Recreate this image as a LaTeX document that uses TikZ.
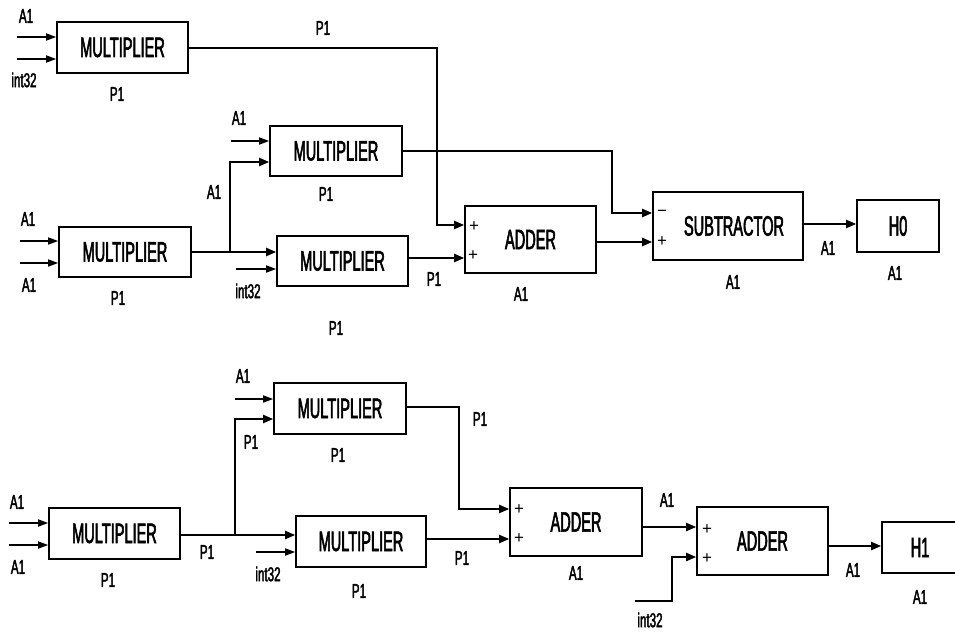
\documentclass[tikz,border=0pt]{standalone}
\usepackage{fontspec}
\setmainfont{Liberation Sans}
\newfontfamily\bigf{Liberation Sans}[FakeStretch=0.52,FakeBold=2]
\newfontfamily\smf{Liberation Sans}[FakeStretch=0.58,FakeBold=2]
\usetikzlibrary{arrows.meta,calc}
\begin{document}
\begin{tikzpicture}[x=1pt,y=-1pt,
  box/.style={draw, line width=1.6pt, inner sep=0pt, font=\bigf\fontsize{28}{28}\selectfont},
  lbl/.style={inner sep=0pt, font=\smf\fontsize{20}{20}\selectfont},
  sgn/.style={inner sep=0pt, font=\fontsize{17}{17}\selectfont},
  arr/.style={line width=2pt, -{Triangle[length=10pt,width=8pt]}},
  inarr/.style={line width=1.6pt, -{Triangle[length=10pt,width=7pt]}}]
\useasboundingbox (0,0) rectangle (955,632);
\clip (0,0) rectangle (955,632);
% ---------- top diagram ----------
\node[box, minimum width=131pt, minimum height=51pt] (m1) at (122.5,47.5) {MULTIPLIER};
\node[box, minimum width=132pt, minimum height=50pt] (m2) at (336,151) {MULTIPLIER};
\node[box, minimum width=132pt, minimum height=50pt] (m3) at (125,252) {MULTIPLIER};
\node[box, minimum width=131pt, minimum height=50pt] (m4) at (342.5,261) {MULTIPLIER};
\node[box, minimum width=131pt, minimum height=67pt] (add1) at (530.5,239.5) {ADDER};
\node[box, minimum width=150pt, minimum height=68pt] (sub) at (728,226) {\hspace*{12pt}SUBTRACTOR};
\node[box, minimum width=82pt, minimum height=52pt] (h0) at (898,226) {H0};
% ---------- bottom diagram ----------
\node[box, minimum width=132pt, minimum height=51pt] (m5) at (340,408.5) {MULTIPLIER};
\node[box, minimum width=131pt, minimum height=51pt] (m6) at (114.5,533.5) {MULTIPLIER};
\node[box, minimum width=130pt, minimum height=51pt] (m7) at (361,541.5) {MULTIPLIER};
\node[box, minimum width=132pt, minimum height=68pt] (add2) at (576,522) {ADDER};
\node[box, minimum width=131pt, minimum height=68pt] (add3) at (762.5,541) {ADDER};
\node[box, minimum width=76pt, minimum height=51pt] (h1) at (920,547.5) {H1};
% ---------- free input ends ----------
\coordinate (i1a) at (17,37);
\coordinate (i1b) at (17,59);
\coordinate (i2a) at (231,141);
\coordinate (i3a) at (20,241);
\coordinate (i3b) at (20,263);
\coordinate (i4b) at (236,269);
\coordinate (j3) at (230,252);
\coordinate (i5a) at (235,399);
\coordinate (i6a) at (9,523);
\coordinate (i6b) at (9,545);
\coordinate (i7b) at (256,552);
\coordinate (j6) at (235,535);
\coordinate (i8) at (635,601);
% ---------- top connectors ----------
\draw[inarr] (i1a) -- (m1.west |- i1a);
\draw[inarr] (i1b) -- (m1.west |- i1b);
\draw[inarr] (i2a) -- (m2.west |- i2a);
\draw[inarr] (i3a) -- (m3.west |- i3a);
\draw[inarr] (i3b) -- (m3.west |- i3b);
\draw[inarr] (i4b) -- (m4.west |- i4b);
\draw[arr] (m1.east) -- (437,47.5) |- (add1.west |- 0,225);
\draw[arr] (m2.east) -- (612,151) |- (sub.west |- 0,213);
\draw[arr] (m3.east) -- (m4.west |- m3.east);
\draw[arr] (j3) |- (m2.west |- 0,162);
\draw[arr] (m4.east |- 0,258) -- (add1.west |- 0,258);
\draw[arr] (add1.east |- 0,242) -- (sub.west |- 0,242);
\draw[arr] (sub.east |- 0,224) -- (h0.west |- 0,224);
% ---------- bottom connectors ----------
\draw[inarr] (i5a) -- (m5.west |- i5a);
\draw[inarr] (i6a) -- (m6.west |- i6a);
\draw[inarr] (i6b) -- (m6.west |- i6b);
\draw[inarr] (i7b) -- (m7.west |- i7b);
\draw[arr] (m6.east |- 0,535) -- (m7.west |- 0,535);
\draw[arr] (j6) |- (m5.west |- 0,419);
\draw[arr] (m5.east |- 0,407) -- (459,407) |- (add2.west |- 0,509);
\draw[arr] (m7.east |- 0,539) -- (add2.west |- 0,539);
\draw[arr] (add2.east |- 0,527) -- (add3.west |- 0,527);
\draw[arr] (i8) -- (672,601) |- (add3.west |- 0,557);
\draw[arr] (add3.east |- 0,546) -- (h1.west |- 0,546);
% ---------- signs ----------
\node[sgn] (s1) at (474,227) {+};
\node[sgn] (s2) at (473,256) {+};
\node[sgn] (s3) at (662,213) {−};
\node[sgn] (s4) at (662,242) {+};
\node[sgn] (s5) at (519,510) {+};
\node[sgn] (s6) at (519,539) {+};
\node[sgn] (s7) at (707,530) {+};
\node[sgn] (s8) at (707,559) {+};
% ---------- labels top ----------
\node[lbl] (t1) at (26,16) {A1};
\node[lbl] (t2) at (24,80) {int32};
\node[lbl] (t3) at (117,94) {P1};
\node[lbl] (t4) at (323,28) {P1};
\node[lbl] (t5) at (239,118) {A1};
\node[lbl] (t6) at (326,194) {P1};
\node[lbl] (t7) at (214,192) {A1};
\node[lbl] (t8) at (28,219) {A1};
\node[lbl] (t9) at (29,285) {A1};
\node[lbl] (t10) at (118,298) {P1};
\node[lbl] (t11) at (248,291) {int32};
\node[lbl] (t12) at (434,279) {P1};
\node[lbl] (t13) at (336,328) {P1};
\node[lbl] (t14) at (521,294) {A1};
\node[lbl] (t15) at (733,282) {A1};
\node[lbl] (t16) at (828,248) {A1};
\node[lbl] (t17) at (895,273) {A1};
% ---------- labels bottom ----------
\node[lbl] (b1) at (243,376) {A1};
\node[lbl] (b2) at (251,442) {P1};
\node[lbl] (b3) at (338,455) {P1};
\node[lbl] (b4) at (480,419) {P1};
\node[lbl] (b5) at (17,502) {A1};
\node[lbl] (b6) at (18,567) {A1};
\node[lbl] (b7) at (108,580) {P1};
\node[lbl] (b8) at (207,552) {P1};
\node[lbl] (b9) at (268,574) {int32};
\node[lbl] (b10) at (359,591) {P1};
\node[lbl] (b11) at (462,558) {P1};
\node[lbl] (b12) at (576,573) {A1};
\node[lbl] (b13) at (667,500) {A1};
\node[lbl] (b14) at (853,570) {A1};
\node[lbl] (b15) at (920,597) {A1};
\node[lbl] (b16) at (650,620) {int32};
\end{tikzpicture}
\end{document}
